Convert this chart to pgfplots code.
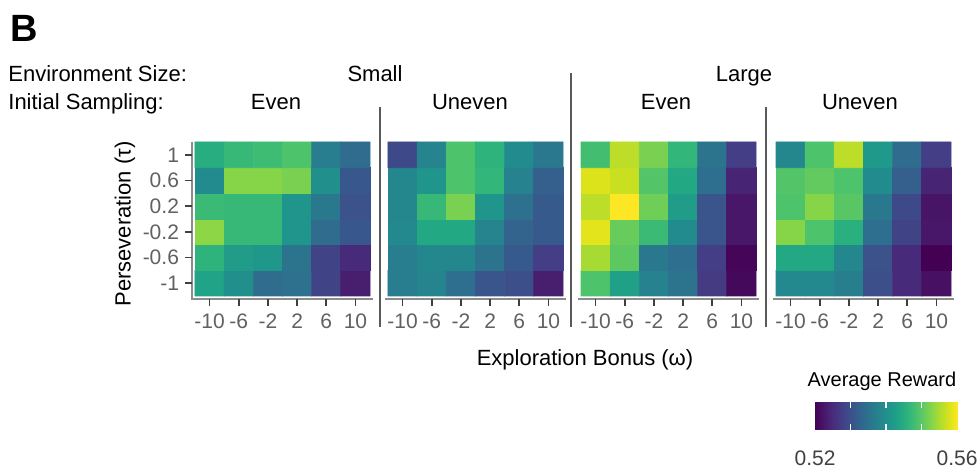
\documentclass[border=0pt]{standalone}
\usepackage{fontspec}
\setmainfont{Liberation Sans}
\usepackage{pgfplots}
\usepackage{pgfplotstable}
\pgfplotsset{compat=1.18}

% Small, Even
\pgfplotstableread{
x y z
-10 -1 0.5432
-6 -1 0.5400
-2 -1 0.5340
2 -1 0.5348
6 -1 0.5280
10 -1 0.5232
-10 -0.6 0.5460
-6 -0.6 0.5420
-2 -0.6 0.5412
2 -0.6 0.5352
6 -0.6 0.5280
10 -0.6 0.5248
-10 -0.2 0.5532
-6 -0.2 0.5468
-2 -0.2 0.5468
2 -0.2 0.5408
6 -0.2 0.5340
10 -0.2 0.5308
-10 0.2 0.5472
-6 0.2 0.5468
-2 0.2 0.5468
2 0.2 0.5408
6 0.2 0.5360
10 0.2 0.5300
-10 0.6 0.5392
-6 0.6 0.5528
-2 0.6 0.5528
2 0.6 0.5520
6 0.6 0.5400
10 0.6 0.5308
-10 1 0.5448
-6 1 0.5468
-2 1 0.5476
2 1 0.5488
6 1 0.5368
10 1 0.5340
}\smalleven

% Small, Uneven
\pgfplotstableread{
x y z
-10 -1 0.5368
-6 -1 0.5380
-2 -1 0.5344
2 -1 0.5304
6 -1 0.5296
10 -1 0.5232
-10 -0.6 0.5368
-6 -0.6 0.5384
-2 -0.6 0.5384
2 -0.6 0.5352
6 -0.6 0.5312
10 -0.6 0.5272
-10 -0.2 0.5388
-6 -0.2 0.5440
-2 -0.2 0.5440
2 -0.2 0.5380
6 -0.2 0.5328
10 -0.2 0.5312
-10 0.2 0.5384
-6 0.2 0.5468
-2 0.2 0.5520
2 0.2 0.5408
6 0.2 0.5348
10 0.2 0.5312
-10 0.6 0.5384
-6 0.6 0.5408
-2 0.6 0.5488
2 0.6 0.5464
6 0.6 0.5376
10 0.6 0.5320
-10 1 0.5288
-6 1 0.5380
-2 1 0.5488
2 1 0.5460
6 1 0.5392
10 1 0.5360
}\smalluneven

% Large, Even
\pgfplotstableread{
x y z
-10 -1 0.5488
-6 -1 0.5428
-2 -1 0.5376
2 -1 0.5352
6 -1 0.5268
10 -1 0.5208
-10 -0.6 0.5548
-6 -0.6 0.5500
-2 -0.6 0.5360
2 -0.6 0.5344
6 -0.6 0.5272
10 -0.6 0.5204
-10 -0.2 0.5584
-6 -0.2 0.5508
-2 -0.2 0.5472
2 -0.2 0.5392
6 -0.2 0.5304
10 -0.2 0.5224
-10 0.2 0.5560
-6 0.2 0.5600
-2 0.2 0.5512
2 0.2 0.5420
6 0.2 0.5304
10 0.2 0.5224
-10 0.6 0.5580
-6 0.6 0.5568
-2 0.6 0.5492
2 0.6 0.5440
6 0.6 0.5344
10 0.6 0.5240
-10 1 0.5480
-6 1 0.5560
-2 1 0.5520
2 1 0.5464
6 1 0.5352
10 1 0.5272
}\largeeven

% Large, Uneven
\pgfplotstableread{
x y z
-10 -1 0.5388
-6 -1 0.5388
-2 -1 0.5372
2 -1 0.5296
6 -1 0.5248
10 -1 0.5216
-10 -0.6 0.5440
-6 -0.6 0.5440
-2 -0.6 0.5384
2 -0.6 0.5300
6 -0.6 0.5248
10 -0.6 0.5200
-10 -0.2 0.5528
-6 -0.2 0.5488
-2 -0.2 0.5452
2 -0.2 0.5344
6 -0.2 0.5280
10 -0.2 0.5224
-10 0.2 0.5488
-6 0.2 0.5528
-2 0.2 0.5496
2 0.2 0.5360
6 0.2 0.5288
10 0.2 0.5220
-10 0.6 0.5492
-6 0.6 0.5504
-2 0.6 0.5488
2 0.6 0.5392
6 0.6 0.5320
10 0.6 0.5240
-10 1 0.5384
-6 1 0.5488
-2 1 0.5560
2 1 0.5416
6 1 0.5340
10 1 0.5272
}\largeuneven

% colour bar
\pgfplotstableread{
x y m
0.520 0 0.520
0.525 0 0.525
0.530 0 0.530
0.535 0 0.535
0.540 0 0.540
0.545 0 0.545
0.550 0 0.550
0.555 0 0.555
0.560 0 0.560
0.520 1 0.520
0.525 1 0.525
0.530 1 0.530
0.535 1 0.535
0.540 1 0.540
0.545 1 0.545
0.550 1 0.550
0.555 1 0.555
0.560 1 0.560
}\cbar

\pgfplotsset{
  panel/.style={
    scale only axis, width=90.5pt, height=78.5pt,
    xmin=-12.41, xmax=12.41, ymin=-1.247, ymax=1.2,
    colormap/viridis, point meta min=0.52, point meta max=0.56,
    axis line style={draw=none},
    xtick={-10,-6,-2,2,6,10},
    xticklabels={-10,-6,-2,2,6,10},
    xtick pos=left, ytick pos=left,
    tick align=outside, major tick length=3pt,
    every tick/.style={draw=none},
    x tick label style={font=\fontsize{10.5}{12}\selectfont, text=black!62, yshift=-1pt},
    y tick label style={font=\fontsize{10.5}{12}\selectfont, text=black!62},
    clip=false,
  },
  xline/.style={extra description/.code={
    \draw[black!45, line width=1pt] (rel axis cs:0,0) -- (rel axis cs:1,0);
    \foreach \tk in {-10,-6,-2,2,6,10}
      {\draw[black!75, line width=0.8pt] (axis cs:\tk,-1.247) -- ++(0,-3.5pt);}
  }},
  xyline/.style={extra description/.code={
    \draw[black!45, line width=1pt] (rel axis cs:0,1) -- (rel axis cs:0,0) -- (rel axis cs:1,0);
    \foreach \tk in {-10,-6,-2,2,6,10}
      {\draw[black!75, line width=0.8pt] (axis cs:\tk,-1.247) -- ++(0,-3.5pt);}
    \foreach \tk in {-1,-0.6,-0.2,0.2,0.6,1}
      {\draw[black!75, line width=0.8pt] (axis cs:-12.41,\tk) -- ++(-3.5pt,0);}
  }},
}

\begin{document}
\begin{tikzpicture}[x=0.5pt,y=0.5pt]
\path[use as bounding box] (0,0) rectangle (978,474);

\begin{axis}[panel, xyline, at={(96pt,87.5pt)}, anchor=south west,
  ytick={-1,-0.6,-0.2,0.2,0.6,1},
  yticklabels={-1,-0.6,-0.2,0.2,0.6,1}]
\addplot[matrix plot*, mesh/cols=6, point meta=explicit] table[x=x,y=y,meta=z] {\smalleven};
\end{axis}

\begin{axis}[panel, xline, ytick=\empty, at={(192.5pt,87.5pt)}, anchor=south west]
\addplot[matrix plot*, mesh/cols=6, point meta=explicit] table[x=x,y=y,meta=z] {\smalluneven};
\end{axis}

\begin{axis}[panel, xline, ytick=\empty, at={(289pt,87.5pt)}, anchor=south west]
\addplot[matrix plot*, mesh/cols=6, point meta=explicit] table[x=x,y=y,meta=z] {\largeeven};
\end{axis}

\begin{axis}[panel, xline, ytick=\empty, at={(386.5pt,87.5pt)}, anchor=south west]
\addplot[matrix plot*, mesh/cols=6, point meta=explicit] table[x=x,y=y,meta=z] {\largeuneven};
\end{axis}

% colour bar
\begin{axis}[scale only axis, at={(407.5pt,22pt)}, anchor=south west,
  width=71pt, height=14pt, xmin=0.52, xmax=0.56, ymin=0, ymax=1,
  colormap/viridis, point meta min=0.52, point meta max=0.56,
  axis line style={draw=none}, ytick=\empty, axis on top,
  xtick={0.53,0.54,0.55}, xticklabels={},
  tick align=inside, major tick length=3pt,
  every tick/.style={draw=white, line width=0.7pt},
  extra x ticks={0.52,0.56}, extra x tick labels={0.52,0.56},
  extra x tick style={major tick length=0pt,
    tick label style={font=\fontsize{10.5}{12}\selectfont, text=black!75, yshift=-7pt}},
  clip=false]
\addplot[surf, shader=interp, mesh/cols=9, point meta=explicit] table[x=x,y=y,meta=m] {\cbar};
\end{axis}

% separators
\draw[black!65, line width=0.8pt] (380,474-107) -- (380,474-327);
\draw[black!65, line width=0.8pt] (571,474-73) -- (571,474-327);
\draw[black!65, line width=0.8pt] (766,474-107) -- (766,474-327);

% texts
\node[anchor=base west, inner sep=0pt, font=\fontsize{19}{22}\selectfont\bfseries] at (10,474-42) {B};
\node[anchor=base west, inner sep=0pt, font=\fontsize{11}{13}\selectfont] at (8,474-82) {Environment Size:};
\node[anchor=base west, inner sep=0pt, font=\fontsize{11}{13}\selectfont] at (8,474-110) {Initial Sampling:};
\node[anchor=base, inner sep=0pt, font=\fontsize{11}{13}\selectfont] at (375,474-82) {Small};
\node[anchor=base, inner sep=0pt, font=\fontsize{11}{13}\selectfont] at (744,474-82) {Large};
\node[anchor=base, inner sep=0pt, font=\fontsize{11}{13}\selectfont] at (276,474-110) {Even};
\node[anchor=base, inner sep=0pt, font=\fontsize{11}{13}\selectfont] at (470,474-110) {Uneven};
\node[anchor=base, inner sep=0pt, font=\fontsize{11}{13}\selectfont] at (666,474-110) {Even};
\node[anchor=base, inner sep=0pt, font=\fontsize{11}{13}\selectfont] at (860,474-110) {Uneven};
\node[rotate=90, inner sep=0pt, font=\fontsize{11}{13}\selectfont] at (125,474-224) {Perseveration (τ)};
\node[inner sep=0pt, font=\fontsize{11}{13}\selectfont] at (585,474-360) {Exploration Bonus (ω)};
\node[anchor=base, inner sep=0pt, font=\fontsize{10}{12}\selectfont] at (882,474-387) {Average Reward};
\end{tikzpicture}
\end{document}
